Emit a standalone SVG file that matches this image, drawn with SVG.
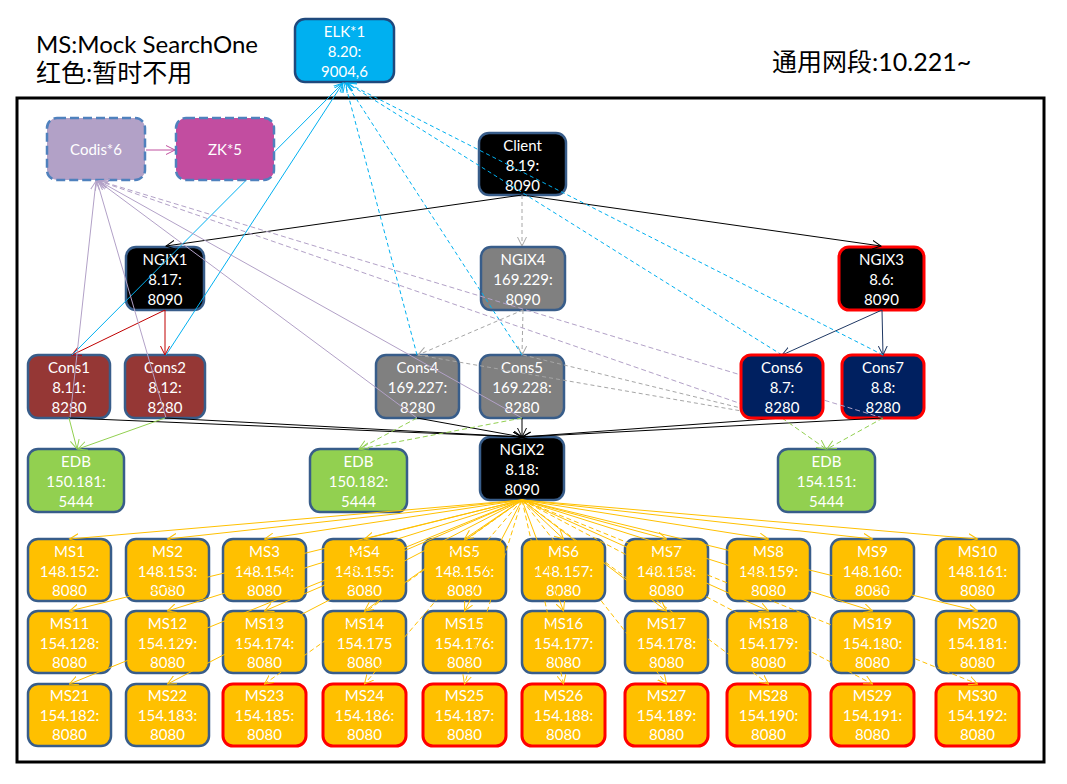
<svg xmlns="http://www.w3.org/2000/svg" width="1067" height="784" viewBox="0 0 1067 784">
<style>
.t{font-family:Lato,"Liberation Sans","Noto Sans CJK SC",sans-serif;font-size:15px;fill:#fff;text-anchor:middle}
.h{font-family:Lato,"Liberation Sans","Noto Sans CJK SC",sans-serif;fill:#000}
.n{stroke:#385D8A;stroke-width:2.5}
.r{stroke:#FF0000;stroke-width:3}
.ms{fill:#FFC000}
.c{fill:none;stroke-width:1}
.k{stroke:#000}
.g{stroke:#A6A6A6;stroke-dasharray:4 3}
.red{stroke:#C00000}
.nv{stroke:#1F3864}
.cy{stroke:#00B0F0}
.cyd{stroke:#00B0F0;stroke-dasharray:4 3}
.p{stroke:#B2A1C7}
.pd{stroke:#B2A1C7;stroke-dasharray:5 3}
.gr{stroke:#92D050}
.grd{stroke:#92D050;stroke-dasharray:5 3}
.o{stroke:#FFC000}
.od{stroke:#FFC000;stroke-dasharray:5 3}
.m{stroke:#C0509F}
</style>
<defs>
<marker id="ak" viewBox="0 0 10 10" refX="9" refY="5" markerWidth="10" markerHeight="10" markerUnits="userSpaceOnUse" orient="auto"><path d="M0,0.5 L9,5 L0,9.5" fill="none" stroke="#000"/></marker>
<marker id="ag" viewBox="0 0 10 10" refX="9" refY="5" markerWidth="10" markerHeight="10" markerUnits="userSpaceOnUse" orient="auto"><path d="M0,0.5 L9,5 L0,9.5" fill="none" stroke="#A6A6A6"/></marker>
<marker id="ar" viewBox="0 0 10 10" refX="9" refY="5" markerWidth="10" markerHeight="10" markerUnits="userSpaceOnUse" orient="auto"><path d="M0,0.5 L9,5 L0,9.5" fill="none" stroke="#C00000"/></marker>
<marker id="an" viewBox="0 0 10 10" refX="9" refY="5" markerWidth="10" markerHeight="10" markerUnits="userSpaceOnUse" orient="auto"><path d="M0,0.5 L9,5 L0,9.5" fill="none" stroke="#1F3864"/></marker>
<marker id="ac" viewBox="0 0 10 10" refX="9" refY="5" markerWidth="10" markerHeight="10" markerUnits="userSpaceOnUse" orient="auto"><path d="M0,0.5 L9,5 L0,9.5" fill="none" stroke="#00B0F0"/></marker>
<marker id="ap" viewBox="0 0 10 10" refX="9" refY="5" markerWidth="10" markerHeight="10" markerUnits="userSpaceOnUse" orient="auto"><path d="M0,0.5 L9,5 L0,9.5" fill="none" stroke="#B2A1C7"/></marker>
<marker id="agr" viewBox="0 0 10 10" refX="9" refY="5" markerWidth="10" markerHeight="10" markerUnits="userSpaceOnUse" orient="auto"><path d="M0,0.5 L9,5 L0,9.5" fill="none" stroke="#92D050"/></marker>
<marker id="ao" viewBox="0 0 10 10" refX="9" refY="5" markerWidth="10" markerHeight="10" markerUnits="userSpaceOnUse" orient="auto"><path d="M0,0.5 L9,5 L0,9.5" fill="none" stroke="#FFC000"/></marker>
<marker id="am" viewBox="0 0 10 10" refX="9" refY="5" markerWidth="10" markerHeight="10" markerUnits="userSpaceOnUse" orient="auto"><path d="M0,0.5 L9,5 L0,9.5" fill="none" stroke="#C0509F"/></marker>
</defs>
<rect width="1067" height="784" fill="#fff"/>
<g id="legend">
<text class="h" x="36" y="53" font-size="24">MS:Mock SearchOne</text>
<text class="h" x="36" y="82" font-size="25">红色:暂时不用</text>
<text class="h" x="772" y="71" font-size="25">通用网段:10.221~</text>
</g>
<rect id="frame" x="17" y="98" width="1027" height="664" fill="none" stroke="#000" stroke-width="3"/>

<g id="ELK"><rect x="295" y="19" width="99" height="63" rx="10" fill="#00B0F0" stroke="#1F497D" stroke-width="2.5"/><text class="t" x="344.5" y="37">ELK*1</text><text class="t" x="344.5" y="57">8.20:</text><text class="t" x="344.5" y="77">9004,6</text></g>
<g id="Codis"><rect x="47" y="118" width="98" height="62" rx="10" fill="#B2A1C7" stroke="#4F81BD" stroke-width="2.5" stroke-dasharray="9 4"/><text class="t" x="96" y="155">Codis*6</text></g>
<g id="Client"><rect x="479" y="133" width="87" height="62" rx="10" fill="#000" class="n"/><text class="t" x="522.5" y="150.5">Client</text><text class="t" x="522.5" y="170.5">8.19:</text><text class="t" x="522.5" y="190.5">8090</text></g>
<g id="NGIX1"><rect x="126" y="247" width="78" height="63" rx="10" fill="#000" class="n"/><text class="t" x="165" y="265">NGIX1</text><text class="t" x="165" y="285">8.17:</text><text class="t" x="165" y="305">8090</text></g>
<g id="NGIX4"><rect x="481" y="247" width="84" height="63" rx="10" fill="#808080" class="n"/><text class="t" x="523" y="265">NGIX4</text><text class="t" x="523" y="285">169.229:</text><text class="t" x="523" y="305">8090</text></g>
<g id="NGIX3"><rect x="839" y="247" width="85" height="63" rx="10" fill="#000" class="r"/><text class="t" x="881.5" y="265">NGIX3</text><text class="t" x="881.5" y="285">8.6:</text><text class="t" x="881.5" y="305">8090</text></g>
<g id="Cons1"><rect x="28" y="355" width="82" height="63" rx="10" fill="#953735" class="n"/><text class="t" x="69" y="373">Cons1</text><text class="t" x="69" y="393">8.11:</text><text class="t" x="69" y="413">8280</text></g>
<g id="Cons2"><rect x="125" y="355" width="80" height="63" rx="10" fill="#953735" class="n"/><text class="t" x="165" y="373">Cons2</text><text class="t" x="165" y="393">8.12:</text><text class="t" x="165" y="413">8280</text></g>
<g id="Cons4"><rect x="376" y="355" width="83" height="63" rx="10" fill="#808080" class="n"/><text class="t" x="417.5" y="373">Cons4</text><text class="t" x="417.5" y="393">169.227:</text><text class="t" x="417.5" y="413">8280</text></g>
<g id="Cons5"><rect x="480" y="355" width="84" height="63" rx="10" fill="#808080" class="n"/><text class="t" x="522" y="373">Cons5</text><text class="t" x="522" y="393">169.228:</text><text class="t" x="522" y="413">8280</text></g>
<g id="Cons7"><rect x="842" y="355" width="82" height="63" rx="10" fill="#002060" class="r"/><text class="t" x="883" y="373">Cons7</text><text class="t" x="883" y="393">8.8:</text><text class="t" x="883" y="413">8280</text></g>
<g id="NGIX2"><rect x="480" y="437" width="84" height="63" rx="10" fill="#000" class="n"/><text class="t" x="522" y="455">NGIX2</text><text class="t" x="522" y="475">8.18:</text><text class="t" x="522" y="495">8090</text></g>
<g id="EDB1"><rect x="28" y="449" width="96" height="63" rx="10" fill="#92D050" class="n"/><text class="t" x="76" y="467">EDB</text><text class="t" x="76" y="487">150.181:</text><text class="t" x="76" y="507">5444</text></g>
<g id="EDB2"><rect x="310" y="449" width="97" height="63" rx="10" fill="#92D050" class="n"/><text class="t" x="358.5" y="467">EDB</text><text class="t" x="358.5" y="487">150.182:</text><text class="t" x="358.5" y="507">5444</text></g>
<g id="EDB3"><rect x="778" y="449" width="97" height="63" rx="10" fill="#92D050" class="n"/><text class="t" x="826.5" y="467">EDB</text><text class="t" x="826.5" y="487">154.151:</text><text class="t" x="826.5" y="507">5444</text></g>

<g id="MS1"><rect x="28" y="539" width="83" height="62" rx="10" class="ms n"/><text class="t" x="69.5" y="556.5">MS1</text><text class="t" x="69.5" y="576.5">148.152:</text><text class="t" x="69.5" y="596">8080</text></g>
<g id="MS2"><rect x="126" y="539" width="83" height="62" rx="10" class="ms n"/><text class="t" x="167.5" y="556.5">MS2</text><text class="t" x="167.5" y="576.5">148.153:</text><text class="t" x="167.5" y="596">8080</text></g>
<g id="MS3"><rect x="223" y="539" width="83" height="62" rx="10" class="ms n"/><text class="t" x="264.5" y="556.5">MS3</text><text class="t" x="264.5" y="576.5">148.154:</text><text class="t" x="264.5" y="596">8080</text></g>
<g id="MS4"><rect x="323" y="539" width="83" height="62" rx="10" class="ms n"/><text class="t" x="364.5" y="556.5">MS4</text><text class="t" x="364.5" y="576.5">148.155:</text><text class="t" x="364.5" y="596">8080</text></g>
<g id="MS5"><rect x="423" y="539" width="83" height="62" rx="10" class="ms n"/><text class="t" x="464.5" y="556.5">MS5</text><text class="t" x="464.5" y="576.5">148.156:</text><text class="t" x="464.5" y="596">8080</text></g>
<g id="MS6"><rect x="522" y="539" width="83" height="62" rx="10" class="ms n"/><text class="t" x="563.5" y="556.5">MS6</text><text class="t" x="563.5" y="576.5">148.157:</text><text class="t" x="563.5" y="596">8080</text></g>
<g id="MS7"><rect x="625" y="539" width="83" height="62" rx="10" class="ms n"/><text class="t" x="666.5" y="556.5">MS7</text><text class="t" x="666.5" y="576.5">148.158:</text><text class="t" x="666.5" y="596">8080</text></g>
<g id="MS8"><rect x="727" y="539" width="83" height="62" rx="10" class="ms n"/><text class="t" x="768.5" y="556.5">MS8</text><text class="t" x="768.5" y="576.5">148.159:</text><text class="t" x="768.5" y="596">8080</text></g>
<g id="MS9"><rect x="831" y="539" width="83" height="62" rx="10" class="ms n"/><text class="t" x="872.5" y="556.5">MS9</text><text class="t" x="872.5" y="576.5">148.160:</text><text class="t" x="872.5" y="596">8080</text></g>
<g id="MS10"><rect x="936" y="539" width="83" height="62" rx="10" class="ms n"/><text class="t" x="977.5" y="556.5">MS10</text><text class="t" x="977.5" y="576.5">148.161:</text><text class="t" x="977.5" y="596">8080</text></g>

<g id="MS11"><rect x="28" y="611" width="83" height="62" rx="10" class="ms n"/><text class="t" x="69.5" y="628.5">MS11</text><text class="t" x="69.5" y="648.5">154.128:</text><text class="t" x="69.5" y="668">8080</text></g>
<g id="MS12"><rect x="126" y="611" width="83" height="62" rx="10" class="ms n"/><text class="t" x="167.5" y="628.5">MS12</text><text class="t" x="167.5" y="648.5">154.129:</text><text class="t" x="167.5" y="668">8080</text></g>
<g id="MS13"><rect x="223" y="611" width="83" height="62" rx="10" class="ms n"/><text class="t" x="264.5" y="628.5">MS13</text><text class="t" x="264.5" y="648.5">154.174:</text><text class="t" x="264.5" y="668">8080</text></g>
<g id="MS14"><rect x="323" y="611" width="83" height="62" rx="10" class="ms n"/><text class="t" x="364.5" y="628.5">MS14</text><text class="t" x="364.5" y="648.5">154.175</text><text class="t" x="364.5" y="668">8080</text></g>
<g id="MS15"><rect x="423" y="611" width="83" height="62" rx="10" class="ms n"/><text class="t" x="464.5" y="628.5">MS15</text><text class="t" x="464.5" y="648.5">154.176:</text><text class="t" x="464.5" y="668">8080</text></g>
<g id="MS16"><rect x="522" y="611" width="83" height="62" rx="10" class="ms n"/><text class="t" x="563.5" y="628.5">MS16</text><text class="t" x="563.5" y="648.5">154.177:</text><text class="t" x="563.5" y="668">8080</text></g>
<g id="MS17"><rect x="625" y="611" width="83" height="62" rx="10" class="ms n"/><text class="t" x="666.5" y="628.5">MS17</text><text class="t" x="666.5" y="648.5">154.178:</text><text class="t" x="666.5" y="668">8080</text></g>
<g id="MS18"><rect x="727" y="611" width="83" height="62" rx="10" class="ms n"/><text class="t" x="768.5" y="628.5">MS18</text><text class="t" x="768.5" y="648.5">154.179:</text><text class="t" x="768.5" y="668">8080</text></g>
<g id="MS19"><rect x="831" y="611" width="83" height="62" rx="10" class="ms n"/><text class="t" x="872.5" y="628.5">MS19</text><text class="t" x="872.5" y="648.5">154.180:</text><text class="t" x="872.5" y="668">8080</text></g>
<g id="MS20"><rect x="936" y="611" width="83" height="62" rx="10" class="ms n"/><text class="t" x="977.5" y="628.5">MS20</text><text class="t" x="977.5" y="648.5">154.181:</text><text class="t" x="977.5" y="668">8080</text></g>

<g id="MS21"><rect x="28" y="684" width="83" height="62" rx="10" class="ms n"/><text class="t" x="69.5" y="700.5">MS21</text><text class="t" x="69.5" y="720.5">154.182:</text><text class="t" x="69.5" y="740">8080</text></g>
<g id="MS22"><rect x="126" y="684" width="83" height="62" rx="10" class="ms n"/><text class="t" x="167.5" y="700.5">MS22</text><text class="t" x="167.5" y="720.5">154.183:</text><text class="t" x="167.5" y="740">8080</text></g>
<g id="MS23"><rect x="223" y="684" width="83" height="62" rx="10" class="ms r"/><text class="t" x="264.5" y="700.5">MS23</text><text class="t" x="264.5" y="720.5">154.185:</text><text class="t" x="264.5" y="740">8080</text></g>
<g id="MS24"><rect x="323" y="684" width="83" height="62" rx="10" class="ms r"/><text class="t" x="364.5" y="700.5">MS24</text><text class="t" x="364.5" y="720.5">154.186:</text><text class="t" x="364.5" y="740">8080</text></g>
<g id="MS25"><rect x="423" y="684" width="83" height="62" rx="10" class="ms r"/><text class="t" x="464.5" y="700.5">MS25</text><text class="t" x="464.5" y="720.5">154.187:</text><text class="t" x="464.5" y="740">8080</text></g>
<g id="MS26"><rect x="522" y="684" width="83" height="62" rx="10" class="ms r"/><text class="t" x="563.5" y="700.5">MS26</text><text class="t" x="563.5" y="720.5">154.188:</text><text class="t" x="563.5" y="740">8080</text></g>
<g id="MS27"><rect x="625" y="684" width="83" height="62" rx="10" class="ms r"/><text class="t" x="666.5" y="700.5">MS27</text><text class="t" x="666.5" y="720.5">154.189:</text><text class="t" x="666.5" y="740">8080</text></g>
<g id="MS28"><rect x="727" y="684" width="83" height="62" rx="10" class="ms r"/><text class="t" x="768.5" y="700.5">MS28</text><text class="t" x="768.5" y="720.5">154.190:</text><text class="t" x="768.5" y="740">8080</text></g>
<g id="MS29"><rect x="831" y="684" width="83" height="62" rx="10" class="ms r"/><text class="t" x="872.5" y="700.5">MS29</text><text class="t" x="872.5" y="720.5">154.191:</text><text class="t" x="872.5" y="740">8080</text></g>
<g id="MS30"><rect x="936" y="684" width="83" height="62" rx="10" class="ms r"/><text class="t" x="977.5" y="700.5">MS30</text><text class="t" x="977.5" y="720.5">154.192:</text><text class="t" x="977.5" y="740">8080</text></g>

<g id="connectors">
<path class="c m" d="M146,150 L175,150" marker-end="url(#am)"/>
<path class="c k" d="M522,195 L166,246" marker-end="url(#ak)"/>
<path class="c k" d="M522,195 L881,246" marker-end="url(#ak)"/>
<path class="c g" d="M522,195 L522,246" marker-end="url(#ag)"/>
<path class="c red" d="M165,310 L72,355" marker-end="url(#ar)"/>
<path class="c red" d="M165,310 L165,355" marker-end="url(#ar)"/>
<path class="c g" d="M523,310 L418,355" marker-end="url(#ag)"/>
<path class="c g" d="M523,310 L522,355" marker-end="url(#ag)"/>
<path class="c nv" d="M882,310 L782,355" marker-end="url(#an)"/>
<path class="c nv" d="M882,310 L883,355" marker-end="url(#an)"/>
<path class="c g" d="M418,355 L782,418"/>
<path class="c g" d="M523,355 L782,418"/>
<path class="c cy" d="M72,355 L343,83" marker-end="url(#ac)"/>
<path class="c cy" d="M166,355 L343,83" marker-end="url(#ac)"/>
<path class="c cyd" d="M417,355 L345,83" marker-end="url(#ac)"/>
<path class="c cyd" d="M522,355 L346,83" marker-end="url(#ac)"/>
<path class="c cyd" d="M782,355 L347,83" marker-end="url(#ac)"/>
<path class="c cyd" d="M883,355 L347,83" marker-end="url(#ac)"/>
<path class="c p" d="M70,418 L96,181" marker-end="url(#ap)"/>
<path class="c p" d="M166,418 L97,181" marker-end="url(#ap)"/>
<path class="c p" d="M417,418 L98,181" marker-end="url(#ap)"/>
<path class="c p" d="M522,418 L99,181" marker-end="url(#ap)"/>
<path class="c pd" d="M782,418 L99,181" marker-end="url(#ap)"/>
<path class="c pd" d="M883,418 L100,181" marker-end="url(#ap)"/>
<path class="c k" d="M69,418 L522,437" marker-end="url(#ak)"/>
<path class="c k" d="M165,418 L522,437" marker-end="url(#ak)"/>
<path class="c k" d="M417,418 L522,437" marker-end="url(#ak)"/>
<path class="c k" d="M522,418 L522,437" marker-end="url(#ak)"/>
<path class="c k" d="M782,418 L522,437" marker-end="url(#ak)"/>
<path class="c k" d="M883,418 L522,437" marker-end="url(#ak)"/>
<path class="c gr" d="M69,418 L77,449" marker-end="url(#agr)"/>
<path class="c gr" d="M165,418 L78,449" marker-end="url(#agr)"/>
<path class="c grd" d="M417,418 L359,449" marker-end="url(#agr)"/>
<path class="c grd" d="M522,418 L360,449" marker-end="url(#agr)"/>
<path class="c grd" d="M782,418 L826,449" marker-end="url(#agr)"/>
<path class="c grd" d="M883,418 L827,449" marker-end="url(#agr)"/>
<path class="c o" d="M522,500 L69.5,539" marker-end="url(#ao)"/>
<path class="c o" d="M522,500 L167.5,539" marker-end="url(#ao)"/>
<path class="c o" d="M522,500 L264.5,539" marker-end="url(#ao)"/>
<path class="c o" d="M522,500 L364.5,539" marker-end="url(#ao)"/>
<path class="c o" d="M522,500 L464.5,539" marker-end="url(#ao)"/>
<path class="c o" d="M522,500 L563.5,539" marker-end="url(#ao)"/>
<path class="c o" d="M522,500 L666.5,539" marker-end="url(#ao)"/>
<path class="c o" d="M522,500 L768.5,539" marker-end="url(#ao)"/>
<path class="c o" d="M522,500 L872.5,539" marker-end="url(#ao)"/>
<path class="c o" d="M522,500 L977.5,539" marker-end="url(#ao)"/>
<path class="c o" d="M522,500 L69.5,611" marker-end="url(#ao)"/>
<path class="c o" d="M522,500 L167.5,611" marker-end="url(#ao)"/>
<path class="c o" d="M522,500 L264.5,611" marker-end="url(#ao)"/>
<path class="c o" d="M522,500 L364.5,611" marker-end="url(#ao)"/>
<path class="c o" d="M522,500 L464.5,611" marker-end="url(#ao)"/>
<path class="c o" d="M522,500 L563.5,611" marker-end="url(#ao)"/>
<path class="c o" d="M522,500 L666.5,611" marker-end="url(#ao)"/>
<path class="c o" d="M522,500 L768.5,611" marker-end="url(#ao)"/>
<path class="c o" d="M522,500 L872.5,611" marker-end="url(#ao)"/>
<path class="c o" d="M522,500 L977.5,611" marker-end="url(#ao)"/>
<path class="c o" d="M522,500 L69.5,684" marker-end="url(#ao)"/>
<path class="c o" d="M522,500 L167.5,684" marker-end="url(#ao)"/>
<path class="c od" d="M522,500 L264.5,684" marker-end="url(#ao)"/>
<path class="c od" d="M522,500 L364.5,684" marker-end="url(#ao)"/>
<path class="c od" d="M522,500 L464.5,684" marker-end="url(#ao)"/>
<path class="c od" d="M522,500 L563.5,684" marker-end="url(#ao)"/>
<path class="c od" d="M522,500 L666.5,684" marker-end="url(#ao)"/>
<path class="c od" d="M522,500 L768.5,684" marker-end="url(#ao)"/>
<path class="c od" d="M522,500 L872.5,684" marker-end="url(#ao)"/>
<path class="c od" d="M522,500 L977.5,684" marker-end="url(#ao)"/>
</g>

<g id="ZK"><rect x="176" y="118" width="98" height="62" rx="10" fill="#C24DA0" stroke="#4F81BD" stroke-width="2.5" stroke-dasharray="9 4"/><text class="t" x="225" y="155">ZK*5</text></g>
<g id="Cons6"><rect x="741" y="355" width="82" height="63" rx="10" fill="#002060" class="r"/><text class="t" x="782" y="373">Cons6</text><text class="t" x="782" y="393">8.7:</text><text class="t" x="782" y="413">8280</text></g>
</svg>
